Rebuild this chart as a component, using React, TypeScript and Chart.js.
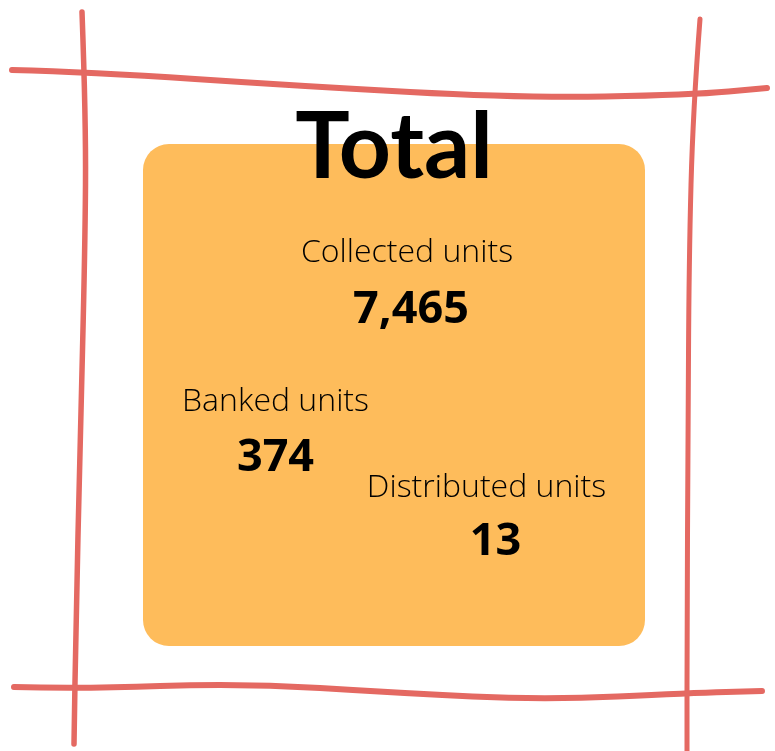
import React, { useEffect, useRef } from "react";
import { Chart, registerables } from "chart.js";

Chart.register(...registerables);

const titleText = "Total";
const metricLabels = ["Collected units", "Banked units", "Distributed units"];
const metricValues = [7465, 374, 13];

const W = 775;
const H = 751;
const RED = "#E46962";
const ORANGE = "#FEBC5B";

// layout: label center x, label baseline y, value center x, value baseline y
const layout = [
  { lx: 407, ly: 262, vx: 411, vy: 323 },
  { lx: 275.5, ly: 411, vx: 275.5, vy: 471 },
  { lx: 486.5, ly: 497, vx: 495.5, vy: 555 },
];

function stroke(ctx: CanvasRenderingContext2D, pts: number[][], width: number) {
  ctx.save();
  ctx.strokeStyle = RED;
  ctx.lineWidth = width;
  ctx.lineCap = "round";
  ctx.lineJoin = "round";
  ctx.beginPath();
  ctx.moveTo(pts[0][0], pts[0][1]);
  for (let i = 1; i < pts.length - 1; i++) {
    const mx = (pts[i][0] + pts[i + 1][0]) / 2;
    const my = (pts[i][1] + pts[i + 1][1]) / 2;
    ctx.quadraticCurveTo(pts[i][0], pts[i][1], mx, my);
  }
  const last = pts[pts.length - 1];
  ctx.lineTo(last[0], last[1]);
  ctx.stroke();
  ctx.restore();
}

const infographic = {
  id: "infographic",
  beforeDraw(chart: any) {
    const ctx: CanvasRenderingContext2D = chart.ctx;
    ctx.save();
    ctx.fillStyle = "#ffffff";
    ctx.fillRect(0, 0, W, H);

    // orange card
    ctx.fillStyle = ORANGE;
    ctx.beginPath();
    (ctx as any).roundRect(143, 144, 502, 502, 26);
    ctx.fill();

    // hand drawn frame
    stroke(ctx, [[12, 70], [90, 72], [300, 86], [520, 98], [690, 95], [767, 88]], 6);
    stroke(ctx, [[14, 687], [80, 689], [240, 683], [400, 693], [545, 700], [690, 693], [762, 691]], 6);
    stroke(ctx, [[82, 12], [86, 120], [85, 250], [80, 450], [76, 620], [74, 744]], 5.5);
    stroke(ctx, [[700, 19], [693, 110], [689, 260], [688, 450], [687, 620], [687, 751]], 5);

    // title
    ctx.fillStyle = "#000000";
    ctx.textAlign = "center";
    ctx.textBaseline = "alphabetic";
    ctx.font = "bold 91px Lato";
    ctx.fillText(titleText, 394, 178);

    const fmt = new Intl.NumberFormat("en-US");
    metricLabels.forEach((label, i) => {
      const p = layout[i];
      ctx.font = "300 32px 'Open Sans'";
      ctx.fillText(label, p.lx, p.ly);
      ctx.font = "bold 45px 'Open Sans'";
      ctx.fillText(fmt.format(metricValues[i]), p.vx, p.vy);
    });
    ctx.restore();
  },
};

export default function App() {
  const ref = useRef<HTMLCanvasElement | null>(null);
  useEffect(() => {
    if (!ref.current) return;
    const chart = new Chart(ref.current, {
      type: "scatter",
      data: {
        datasets: [
          {
            label: "metrics",
            data: metricValues.map((v, i) => ({ x: i, y: v })),
            pointRadius: 0,
            showLine: false,
          },
        ],
      },
      options: {
        responsive: false,
        animation: false,
        events: [],
        layout: { padding: 0 },
        plugins: { legend: { display: false }, tooltip: { enabled: false } },
        scales: { x: { display: false }, y: { display: false } },
      },
      plugins: [infographic],
    });
    return () => chart.destroy();
  }, []);
  return (
    <div style={{ position: "absolute", left: 0, top: 0, width: W, height: H, background: "#fff" }}>
      <canvas ref={ref} width={W} height={H} style={{ display: "block", width: W, height: H }} />
    </div>
  );
}
